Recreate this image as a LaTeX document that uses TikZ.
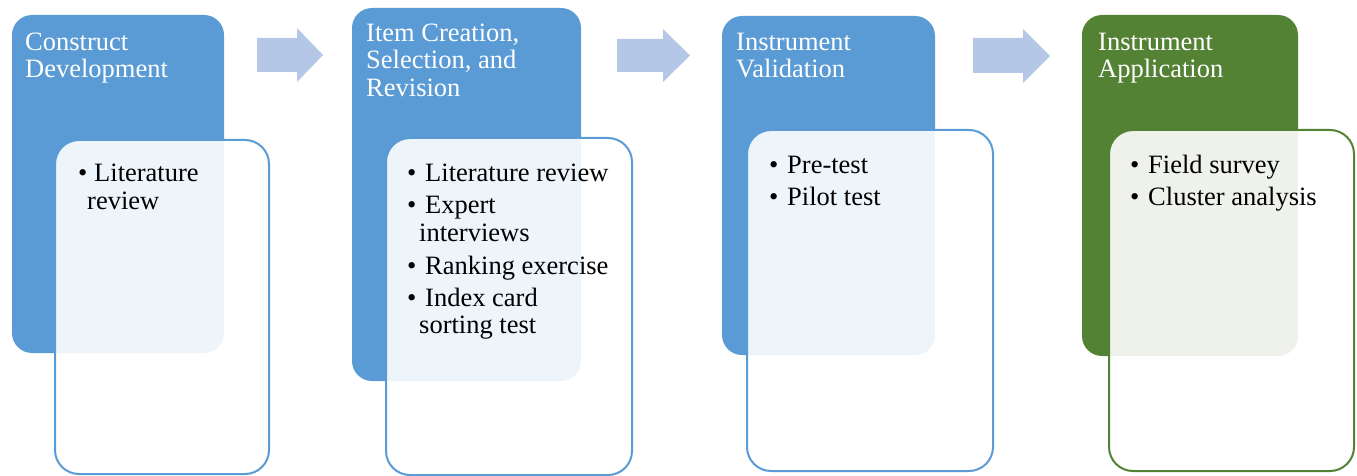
\documentclass[tikz,border=0pt]{standalone}
\usepackage{fontspec}
\setmainfont{Liberation Serif}
\definecolor{stageblue}{HTML}{5B9BD5}
\definecolor{stagegreen}{HTML}{548235}
\definecolor{arrowblue}{HTML}{B4C7E7}
\tikzset{
  stagebox/.style={fill=#1, draw=none, rounded corners=20pt, inner sep=0pt, outer sep=0pt, anchor=north west},
  listbox/.style={draw=#1, line width=2pt, fill=white, fill opacity=0.9, rounded corners=24pt, inner sep=0pt, outer sep=0pt, anchor=north west},
  title/.style={text=white, inner sep=0pt, anchor=base west, font=\fontsize{26.5}{29}\selectfont},
  itemtext/.style={text=black, inner sep=0pt, anchor=base west, font=\fontsize{26.5}{29}\selectfont},
  blockarrow/.style={fill=arrowblue, draw=none}
}
\begin{document}
\begin{tikzpicture}[x=1pt, y=-1pt]
\useasboundingbox (0,0) rectangle (1357,476);

% ---- stage 1: construct development
\node[stagebox=stageblue, minimum width=212pt, minimum height=338pt] (s1) at (12,15) {};
\node[listbox=stageblue, minimum width=214pt, minimum height=334pt] (l1) at (55,140) {};
\node[title] (t1a) at (25,51) {Construct};
\node[title] (t1b) at (25,78) {Development};
\node[itemtext] (b1a) at (78,182) {\textbullet};
\node[itemtext] (i1a) at (94,182) {Literature};
\node[itemtext] (i1b) at (87,209) {review};

% ---- stage 2: item creation
\node[stagebox=stageblue, minimum width=229pt, minimum height=373pt] (s2) at (352,8) {};
\node[listbox=stageblue, minimum width=246pt, minimum height=337pt] (l2) at (386,138) {};
\node[title] (t2a) at (366,42) {Item Creation,};
\node[title] (t2b) at (366,69) {Selection, and};
\node[title] (t2c) at (366,97) {Revision};
\node[itemtext] (b2a) at (407,182) {\textbullet};
\node[itemtext] (i2a) at (425,182) {Literature review};
\node[itemtext] (b2b) at (407,213) {\textbullet};
\node[itemtext] (i2b) at (425,213) {Expert};
\node[itemtext] (i2c) at (419,241) {interviews};
\node[itemtext] (b2c) at (407,274) {\textbullet};
\node[itemtext] (i2d) at (425,274) {Ranking exercise};
\node[itemtext] (b2d) at (407,306) {\textbullet};
\node[itemtext] (i2e) at (425,306) {Index card};
\node[itemtext] (i2f) at (419,333) {sorting test};

% ---- stage 3: instrument validation
\node[stagebox=stageblue, minimum width=213pt, minimum height=339pt] (s3) at (722,16) {};
\node[listbox=stageblue, minimum width=246pt, minimum height=341pt] (l3) at (747,130) {};
\node[title] (t3a) at (736,51) {Instrument};
\node[title] (t3b) at (736,78) {Validation};
\node[itemtext] (b3a) at (769,173) {\textbullet};
\node[itemtext] (i3a) at (787,173) {Pre-test};
\node[itemtext] (b3b) at (769,205) {\textbullet};
\node[itemtext] (i3b) at (787,205) {Pilot test};

% ---- stage 4: instrument application
\node[stagebox=stagegreen, minimum width=216pt, minimum height=341pt] (s4) at (1082,15) {};
\node[listbox=stagegreen, minimum width=245pt, minimum height=341pt] (l4) at (1109,130) {};
\node[title] (t4a) at (1098,51) {Instrument};
\node[title] (t4b) at (1098,78) {Application};
\node[itemtext] (b4a) at (1130,173) {\textbullet};
\node[itemtext] (i4a) at (1148,173) {Field survey};
\node[itemtext] (b4b) at (1130,205) {\textbullet};
\node[itemtext] (i4b) at (1148,205) {Cluster analysis};

% ---- block arrows between the stages
\fill[blockarrow] (257,38) -- (297,38) -- (297,28) -- (323,55) -- (297,82) -- (297,72) -- (257,72) -- cycle;
\fill[blockarrow] (617,39) -- (663,39) -- (663,29) -- (690,55.5) -- (663,82) -- (663,72) -- (617,72) -- cycle;
\fill[blockarrow] (973,38) -- (1023,38) -- (1023,29) -- (1050,56) -- (1023,83) -- (1023,73) -- (973,73) -- cycle;
\end{tikzpicture}
\end{document}
